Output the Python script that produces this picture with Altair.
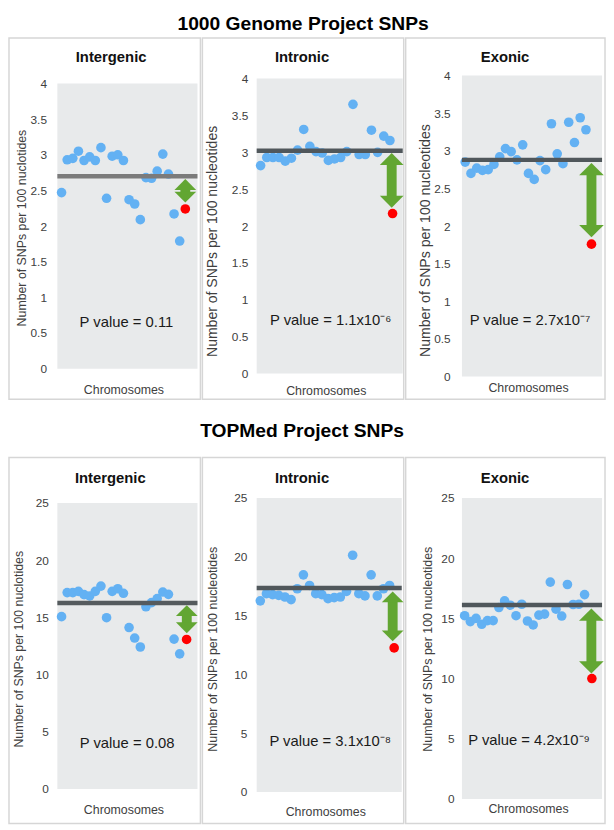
import altair as alt
import pandas as pd

FONT = "Liberation Sans"

# ---------------- text ----------------
project_titles = ["1000 Genome Project SNPs", "TOPMed Project SNPs"]
region_titles = ["Intergenic", "Intronic", "Exonic"]
y_axis_titles = [
    ["Number of SNPs per 100 nuclotides", "Number of SNPs per 100 nucleotides", "Number of SNPs per 100 nucleotides"],
    ["Number of SNPs per 100 nuclotides", "Number of SNPs per 100 nucleotides", "Number of SNPs per 100 nucleotides"],
]
x_axis_title = "Chromosomes"
p_value_labels = [
    ["P value = 0.11", "P value = 1.1x10⁻⁶", "P value = 2.7x10⁻⁷"],
    ["P value = 0.08", "P value = 3.1x10⁻⁸", "P value = 4.2x10⁻⁹"],
]
y_ticks = [[0, 0.5, 1, 1.5, 2, 2.5, 3, 3.5, 4], [0, 5, 10, 15, 20, 25]]

# ---------------- data ----------------
chromosome_index = list(range(1, 23))

g1000_intergenic = [2.47, 2.93, 2.95, 3.05, 2.92, 2.97, 2.92, 3.10, 2.39, 2.98, 3.00,
                    2.92, 2.37, 2.31, 2.09, 2.68, 2.67, 2.77, 3.01, 2.73, 2.17, 1.79]
g1000_intronic = [2.82, 2.93, 2.93, 2.93, 2.88, 2.92, 3.03, 3.31, 3.08, 3.01, 2.99,
                  2.89, 2.91, 2.93, 3.01, 3.65, 2.97, 2.97, 3.30, 3.00, 3.22, 3.16]
g1000_exonic = [2.85, 2.70, 2.77, 2.74, 2.75, 2.82, 2.92, 3.03, 2.99, 2.88, 3.08,
                2.70, 2.62, 2.87, 2.75, 3.36, 2.96, 2.83, 3.38, 3.11, 3.44, 3.28]
topmed_intergenic = [15.06, 17.16, 17.16, 17.27, 16.98, 16.87, 17.27, 17.73, 14.97, 17.27, 17.50,
                     17.10, 14.11, 13.19, 12.41, 15.92, 16.29, 16.64, 17.21, 17.01, 13.10, 11.81]
topmed_intronic = [16.25, 16.86, 16.78, 16.72, 16.58, 16.36, 17.28, 18.46, 17.56, 16.86, 16.78,
                   16.44, 16.53, 16.58, 17.06, 20.13, 16.86, 16.67, 18.46, 16.67, 17.28, 17.56]
topmed_exonic = [15.22, 14.73, 15.00, 14.51, 14.81, 14.81, 15.90, 16.45, 16.09, 15.22, 16.17,
                 14.78, 14.45, 15.27, 15.35, 18.01, 15.76, 15.19, 17.81, 16.15, 16.17, 16.97]

blue_series = [[g1000_intergenic, g1000_intronic, g1000_exonic],
               [topmed_intergenic, topmed_intronic, topmed_exonic]]

red_values = [[2.24, 2.17, 1.76], [13.07, 12.25, 10.0]]
red_positions = [[23.0, 22.43, 22.96], [23.23, 22.74, 23.28]]
mean_values = [[2.70, 3.02, 2.88], [16.26, 17.34, 16.10]]
arrow_positions = [[23.0, 22.29, 22.96], [23.26, 22.5, 23.19]]
arrow_tops = [[2.66, 2.99, 2.84], [16.06, 17.05, 15.82]]
arrow_bottoms = [[2.33, 2.25, 1.85], [13.62, 12.81, 10.41]]

# ---------------- styling / layout ----------------
BLUE = "#63b1f3"
RED = "#ff0000"
GREEN = "#62a632"
PLOT_BG = "#e8eaeb"
FRAME = "#d6d6d6"
LABEL = "#404040"
mean_colors = [["#7b7b7b", "#50575b", "#50575b"], ["#555b5e", "#50575b", "#50575b"]]

ROW_H = [305, 305]
FRAME_TOP = [-38, -41]
FRAME_BOTTOM = [328, 330]
PROJECT_TITLE_POS = [(47, -61.5), (46, -76.4)]   # placed in the middle panel of each row
layout = [
    [
        dict(W=142, FL=49, FR=3, yr=[297, 8], xd=[0.25, 25.16], lp=11, ytx=-36.5, yty=154, yts=12.5, xty=12.7, tx=54.5, ty=-19, px=70, py=250, hw=22),
        dict(W=148, FL=55, FR=1, yr=[302, 3], xd=[0.36, 24.08], lp=9, ytx=-45, yty=167.5, yts=14.2, xty=14, tx=46, ty=-19, px=75, py=247.3, hw=24),
        dict(W=142, FL=57, FR=3, yr=[305, 0], xd=[0.43, 24.8], lp=12, ytx=-37.3, yty=166.7, yts=14.3, xty=11, tx=43.7, ty=-18.5, px=69, py=247.3, hw=25),
    ],
    [
        dict(W=142, FL=49, FR=3, yr=[295, 5], xd=[0.25, 25.16], lp=9, ytx=-39, yty=152.8, yts=12.5, xty=11, tx=53.7, ty=-20.3, px=70.7, py=248, hw=22),
        dict(W=147, FL=55, FR=2, yr=[298, 0], xd=[0.41, 23.97], lp=10, ytx=-45, yty=152.8, yts=12.6, xty=12.7, tx=46, ty=-20.3, px=74.5, py=246, hw=22),
        dict(W=142, FL=57, FR=3, yr=[305, 0], xd=[0.53, 25.06], lp=8, ytx=-35.3, yty=152.8, yts=12.6, xty=9.7, tx=43.7, ty=-20.3, px=68, py=245.3, hw=25),
    ],
]

UP_HEAD = "M0,0L1,1L-1,1Z"
DOWN_HEAD = "M0,0L1,-1L-1,-1Z"


def build_panel(r, c):
    L = layout[r][c]
    W, H = L["W"], ROW_H[r]
    top_tick = y_ticks[r][-1]

    xs = alt.Scale(domain=L["xd"], nice=False, zero=False)
    ys = alt.Scale(domain=[0, top_tick], range=L["yr"], nice=False, zero=False)
    y_axis = alt.Axis(values=y_ticks[r], format="~g", title=y_axis_titles[r][c],
                      titleFontSize=L["yts"], titleFontWeight="normal", titleColor=LABEL,
                      titleX=L["ytx"], titleY=L["yty"], titleAngle=270, titleAlign="center",
                      titleBaseline="middle", labelFontSize=12, labelColor=LABEL,
                      labelPadding=L["lp"], ticks=False, domain=False, grid=False)
    x_axis = alt.Axis(labels=False, ticks=False, domain=False, grid=False, title=x_axis_title,
                      titleFontSize=12.5, titleFontWeight="normal", titleColor=LABEL,
                      titleX=W / 2 - 4, titleY=L["xty"], titleAlign="center", titleBaseline="middle")
    X = alt.X("x:Q", scale=xs, axis=x_axis)
    Y = alt.Y("y:Q", scale=ys, axis=y_axis)

    one = pd.DataFrame({"k": [0]})
    frame = alt.Chart(one).mark_rect(fillOpacity=0, stroke=FRAME, strokeWidth=1.5).encode(
        x=alt.value(-L["FL"]), x2=alt.value(W + L["FR"]),
        y=alt.value(FRAME_TOP[r]), y2=alt.value(FRAME_BOTTOM[r]))

    bg_df = pd.DataFrame({"y": [0], "y2": [top_tick]})
    bg = alt.Chart(bg_df).mark_rect(color=PLOT_BG).encode(
        x=alt.value(0), x2=alt.value(W), y=Y, y2="y2:Q")

    pts_df = pd.DataFrame({"x": chromosome_index, "y": blue_series[r][c]})
    pts = alt.Chart(pts_df).mark_circle(size=95, color=BLUE, opacity=1).encode(x=X, y=Y)

    mean_df = pd.DataFrame({"y": [mean_values[r][c]]})
    mean = alt.Chart(mean_df).mark_rule(color=mean_colors[r][c], strokeWidth=4.5).encode(
        y=Y, x=alt.value(0), x2=alt.value(W))

    arr_df = pd.DataFrame({"x": [arrow_positions[r][c]], "y": [arrow_tops[r][c]],
                           "y2": [arrow_bottoms[r][c]]})
    hw = L["hw"]
    shaft = alt.Chart(arr_df).mark_rule(color=GREEN, strokeWidth=10, yOffset=hw / 2 - 2,
                                        y2Offset=-(hw / 2 - 2)).encode(x=X, y=Y, y2="y2:Q")
    head_up = alt.Chart(arr_df).mark_point(shape=UP_HEAD, filled=True, size=hw * hw, color=GREEN,
                                           opacity=1, strokeWidth=0).encode(x=X, y=Y)
    bot_df = pd.DataFrame({"x": [arrow_positions[r][c]], "y": [arrow_bottoms[r][c]]})
    head_down = alt.Chart(bot_df).mark_point(shape=DOWN_HEAD, filled=True, size=hw * hw, color=GREEN,
                                             opacity=1, strokeWidth=0).encode(x=X, y=Y)

    red_df = pd.DataFrame({"x": [red_positions[r][c]], "y": [red_values[r][c]]})
    red = alt.Chart(red_df).mark_circle(size=95, color=RED, opacity=1).encode(x=X, y=Y)

    title_df = pd.DataFrame({"t": [region_titles[c]]})
    title = alt.Chart(title_df).mark_text(fontSize=15, fontWeight="bold", color="#111111",
                                          align="center", baseline="middle").encode(
        text="t:N", x=alt.value(L["tx"]), y=alt.value(L["ty"]))

    p_df = pd.DataFrame({"t": [p_value_labels[r][c]]})
    ptxt = alt.Chart(p_df).mark_text(fontSize=15, color="#1a1a1a", align="center",
                                     baseline="middle").encode(
        text="t:N", x=alt.value(L["px"]), y=alt.value(L["py"]))

    layers = [frame, bg, pts, mean, shaft, head_up, head_down, red, title, ptxt]
    if c == 1:
        tx, ty = PROJECT_TITLE_POS[r]
        proj_df = pd.DataFrame({"t": [project_titles[r]]})
        layers.append(alt.Chart(proj_df).mark_text(fontSize=19.5, fontWeight="bold", color="#000000",
                                                   align="center", baseline="top").encode(
            text="t:N", x=alt.value(tx), y=alt.value(ty)))

    return alt.layer(*layers).properties(width=W, height=H)


panels = [build_panel(r, c) for r in range(2) for c in range(3)]

chart = alt.concat(*panels, columns=3, spacing={"row": 123, "column": 60},
                   bounds="flush", align="each").properties(padding=0).configure(
    font=FONT).configure_view(strokeWidth=0)

chart.save("out.html", embed_options={"renderer": "svg", "actions": False})
